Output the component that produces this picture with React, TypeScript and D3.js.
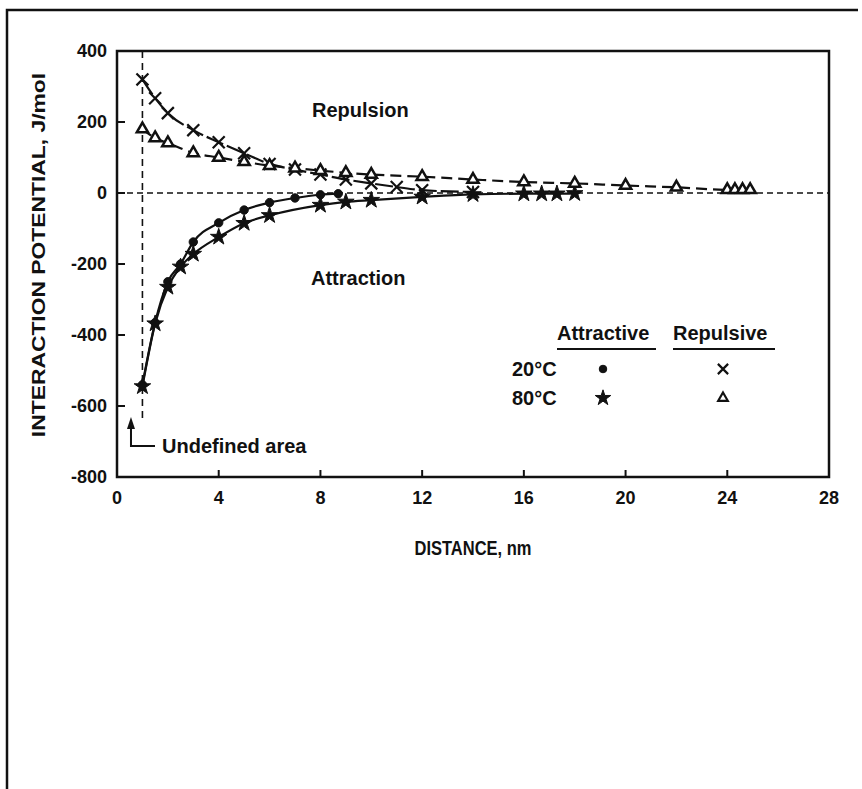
import React, { useEffect, useRef } from 'react'
import * as d3 from 'd3'

// distance (nm) and interaction potential (J/mol)
const attr20X = [1, 1.5, 2, 2.5, 3, 4, 5, 6, 7, 8, 8.7]
const attr20Y = [-540, -365, -250, -200, -138, -84, -48, -27, -14, -5, -2]
const attr80X = [1, 1.5, 2, 2.5, 3, 4, 5, 6, 8, 9, 10, 12, 14, 16, 16.7, 17.3, 18]
const attr80Y = [-545, -368, -265, -208, -172, -124, -85, -63, -34, -25, -20, -11, -4, -2, -2, -2, -1]
const rep20X = [1, 1.5, 2, 3, 4, 5, 6, 7, 8, 9, 10, 11, 12, 14]
const rep20Y = [320, 267, 225, 177, 143, 112, 82, 66, 52, 38, 27, 17, 8, 3]
const rep80X = [1, 1.5, 2, 3, 4, 5, 6, 7, 8, 9, 10, 12, 14, 16, 18, 20, 22, 24, 24.3, 24.6, 24.9]
const rep80Y = [180, 155, 141, 113, 100, 88, 77, 70, 63, 57, 52, 46, 38, 31, 27, 21, 16, 9, 9, 9, 9]

const xTicks = [0, 4, 8, 12, 16, 20, 24, 28]
const yTicks = [400, 200, 0, -200, -400, -600, -800]

const FONT = '"Liberation Sans", Arial, Helvetica, sans-serif'

export default function App() {
  const svgRef = useRef<SVGSVGElement>(null)

  useEffect(() => {
    const svg = d3.select(svgRef.current)
    svg.selectAll('*').remove()

    const x = d3.scaleLinear().domain([0, 28]).range([117, 829])
    const y = d3.scaleLinear().domain([-800, 400]).range([477, 51])

    // outer frame (top and left edges visible)
    svg.append('path').attr('d', 'M7,789 L7,10 L858,10').attr('fill', 'none').attr('stroke', '#111').attr('stroke-width', 2.5)

    const g = svg.append('g').attr('font-family', FONT).attr('font-weight', 'bold')

    // plot box
    g.append('rect')
      .attr('x', x(0)).attr('y', y(400))
      .attr('width', x(28) - x(0)).attr('height', y(-800) - y(400))
      .attr('fill', 'none').attr('stroke', '#111').attr('stroke-width', 2.5)

    // ticks (inward)
    g.selectAll('.yt').data(yTicks).join('line')
      .attr('x1', x(0)).attr('x2', x(0) + 8)
      .attr('y1', d => y(d)).attr('y2', d => y(d))
      .attr('stroke', '#111').attr('stroke-width', 2)
    g.selectAll('.xt').data(xTicks).join('line')
      .attr('x1', d => x(d)).attr('x2', d => x(d))
      .attr('y1', y(-800)).attr('y2', y(-800) - 7)
      .attr('stroke', '#111').attr('stroke-width', 2)

    // tick labels
    g.selectAll('.yl').data(yTicks).join('text')
      .attr('x', x(0) - 10).attr('y', d => y(d) + 6)
      .attr('text-anchor', 'end').attr('font-size', 18).attr('fill', '#111')
      .text(d => d)
    g.selectAll('.xl').data(xTicks).join('text')
      .attr('x', d => x(d)).attr('y', 504)
      .attr('text-anchor', 'middle').attr('font-size', 18).attr('fill', '#111')
      .text(d => d)

    // axis titles
    g.append('text')
      .attr('transform', 'translate(473,555) scale(1,1.2)')
      .attr('text-anchor', 'middle').attr('font-size', 16.5).attr('fill', '#111')
      .text('DISTANCE, nm')
    g.append('text')
      .attr('transform', 'translate(45,255) rotate(-90) scale(1.27,1)')
      .attr('text-anchor', 'middle').attr('font-size', 18).attr('fill', '#111')
      .text('INTERACTION POTENTIAL, J/mol')

    // reference dashed lines
    g.append('line')
      .attr('x1', x(0)).attr('x2', x(28)).attr('y1', y(0)).attr('y2', y(0))
      .attr('stroke', '#111').attr('stroke-width', 1.6).attr('stroke-dasharray', '6,4')
    g.append('line')
      .attr('x1', x(1)).attr('x2', x(1)).attr('y1', y(400)).attr('y2', y(-640))
      .attr('stroke', '#111').attr('stroke-width', 1.6).attr('stroke-dasharray', '7,5')

    const line = d3.line<[number, number]>()
      .x(d => x(d[0])).y(d => y(d[1]))
      .curve(d3.curveMonotoneX)

    const series = [
      { xs: attr20X, ys: attr20Y, dash: null, symbol: d3.symbolCircle, size: 55, fill: '#111', sw: 1 },
      { xs: attr80X, ys: attr80Y, dash: null, symbol: d3.symbolStar, size: 85, fill: '#111', sw: 1 },
      { xs: rep20X, ys: rep20Y, dash: '18,4', symbol: d3.symbolTimes, size: 95, fill: 'none', sw: 2.2 },
      { xs: rep80X, ys: rep80Y, dash: '11,6', symbol: d3.symbolTriangle, size: 55, fill: '#fff', sw: 2.5 },
    ]

    series.forEach(s => {
      const pts = s.xs.map((v, i) => [v, s.ys[i]] as [number, number])
      g.append('path')
        .attr('d', line(pts))
        .attr('fill', 'none').attr('stroke', '#111').attr('stroke-width', 2.2)
        .attr('stroke-dasharray', s.dash)
      g.append('g').selectAll('path').data(pts).join('path')
        .attr('transform', d => `translate(${x(d[0])},${y(d[1])})`)
        .attr('d', d3.symbol(s.symbol, s.size)())
        .attr('fill', s.fill).attr('stroke', '#111').attr('stroke-width', s.sw)
    })

    // region labels
    g.append('text').attr('x', 312).attr('y', 117).attr('font-size', 20).attr('fill', '#111').text('Repulsion')
    g.append('text').attr('x', 311).attr('y', 285).attr('font-size', 20).attr('fill', '#111').text('Attraction')

    // undefined area arrow
    const ax = x(0.55)
    g.append('path')
      .attr('d', `M${ax},428 L${ax},446 L155,446`)
      .attr('fill', 'none').attr('stroke', '#111').attr('stroke-width', 2)
    g.append('path')
      .attr('d', `M${ax},417 L${ax - 4},429 L${ax + 4},429 Z`)
      .attr('fill', '#111')
    g.append('text').attr('x', 162).attr('y', 453).attr('font-size', 20).attr('fill', '#111').text('Undefined area')

    // legend
    const leg = g.append('g').attr('fill', '#111')
    leg.append('text').attr('x', 557).attr('y', 340).attr('font-size', 20).text('Attractive')
    leg.append('text').attr('x', 673).attr('y', 340).attr('font-size', 20).text('Repulsive')
    leg.append('line').attr('x1', 557).attr('x2', 656).attr('y1', 349).attr('y2', 349).attr('stroke', '#111').attr('stroke-width', 2)
    leg.append('line').attr('x1', 673).attr('x2', 775).attr('y1', 349).attr('y2', 349).attr('stroke', '#111').attr('stroke-width', 2)
    leg.append('text').attr('x', 512).attr('y', 376).attr('font-size', 20).text('20°C')
    leg.append('text').attr('x', 512).attr('y', 405).attr('font-size', 20).text('80°C')
    const legSym = [
      { cx: 603, cy: 369, symbol: d3.symbolCircle, size: 45, fill: '#111', sw: 1 },
      { cx: 603, cy: 398, symbol: d3.symbolStar, size: 75, fill: '#111', sw: 1 },
      { cx: 723, cy: 369, symbol: d3.symbolTimes, size: 70, fill: 'none', sw: 2.2 },
      { cx: 723, cy: 398, symbol: d3.symbolTriangle, size: 40, fill: '#fff', sw: 2.2 },
    ]
    leg.selectAll('path').data(legSym).join('path')
      .attr('transform', d => `translate(${d.cx},${d.cy})`)
      .attr('d', d => d3.symbol(d.symbol, d.size)())
      .attr('fill', d => d.fill).attr('stroke', '#111').attr('stroke-width', d => d.sw)
  }, [])

  return (
    <svg
      ref={svgRef}
      width={862}
      height={789}
      style={{ position: 'absolute', left: 0, top: 0, background: '#fff' }}
    />
  )
}
